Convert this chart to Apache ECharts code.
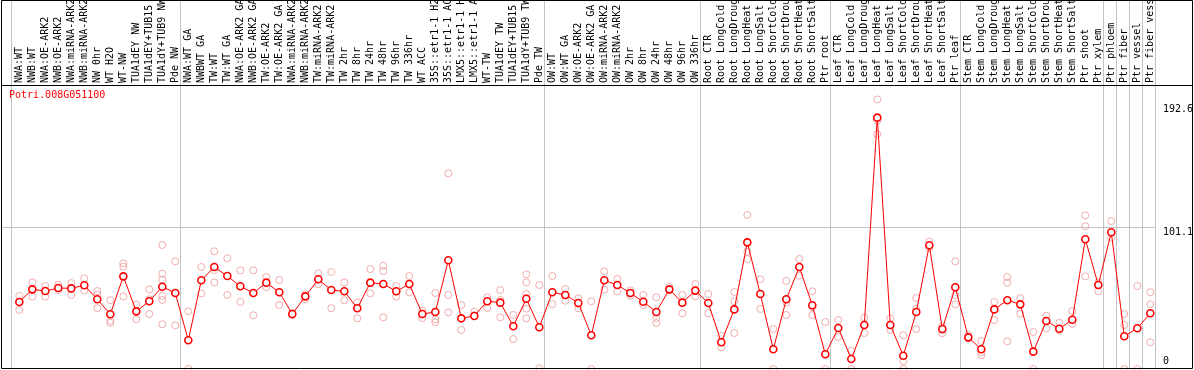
<!DOCTYPE html>
<html>
<head>
<meta charset="utf-8">
<title>Potri.008G051100</title>
<script src="https://cdn.jsdelivr.net/npm/echarts@6.0.0/dist/echarts.min.js"></script>
<style>
	html, body { margin: 0; padding: 0; background: #fff; }
	#chart { width: 1194px; height: 370px; }
</style>
</head>
<body>
<div id="chart"></div>
<script>
	// 样本名称
	const categories = [
		"NWA:WT", "NWB:WT", "NWA:OE-ARK2", "NWB:OE-ARK2", "NWA:miRNA-ARK2", "NWB:miRNA-ARK2",
		"NW 0hr", "WT H2O", "WT-NW", "TUA1dEY NW", "TUA1dEY+TUB15 NW", "TUA1dY+TUB9 NW", "Pde NW",
		"NWA:WT GA", "NWBWT GA", "TW:WT", "TW:WT GA", "NWA:OE-ARK2 GA", "NWB:OE-ARK2 GA",
		"TW:OE-ARK2", "TW:OE-ARK2 GA", "NWA:miRNA-ARK2 GA", "NWB:miRNA-ARK2 GA", "TW:miRNA-ARK2",
		"TW:miRNA-ARK2 GA", "TW 2hr", "TW 8hr", "TW 24hr", "TW 48hr", "TW 96hr", "TW 336hr",
		"WT ACC", "35S::etr1-1 H2O", "35S::etr1-1 ACC", "LMX5::etr1-1 H2O", "LMX5::etr1-1 ACC",
		"WT-TW", "TUA1dEY TW", "TUA1dEY+TUB15 TW", "TUA1dY+TUB9 TW", "Pde TW",
		"OW:WT", "OW:WT GA", "OW:OE-ARK2", "OW:OE-ARK2 GA", "OW:miRNA-ARK2", "OW:miRNA-ARK2 GA",
		"OW 2hr", "OW 8hr", "OW 24hr", "OW 48hr", "OW 96hr", "OW 336hr",
		"Root CTR", "Root LongCold", "Root LongDrought", "Root LongHeat", "Root LongSalt",
		"Root ShortCold", "Root ShortDrought", "Root ShortHeat", "Root ShortSalt", "Ptr root",
		"Leaf CTR", "Leaf LongCold", "Leaf LongDrought", "Leaf LongHeat", "Leaf LongSalt",
		"Leaf ShortCold", "Leaf ShortDrought", "Leaf ShortHeat", "Leaf ShortSalt", "Ptr leaf",
		"Stem CTR", "Stem LongCold", "Stem LongDrought", "Stem LongHeat", "Stem LongSalt",
		"Stem ShortCold", "Stem ShortDrought", "Stem ShortHeat", "Stem ShortSalt", "Ptr shoot",
		"Ptr xylem", "Ptr phloem", "Ptr fiber", "Ptr vessel", "Ptr fiber vessel"
	];

	// 每组样本数（灰色分隔线）
	const groupSizes = [13, 28, 12, 10, 10, 11, 1, 1, 1, 1];

	// 平均值
	const means = [
		47.9, 56.9, 55.7, 57.9, 57.6, 59.8, 49.8, 39.1, 66.2, 41.2, 48.4, 58.8, 54.3,
		20.5, 63.4, 72.9, 66.4, 59.1, 54.3, 61.7, 54.8, 39.3, 51.9, 64.1, 56.4, 55.5, 43.4,
		61.7, 60.7, 55.5, 60.7, 39.3, 40.7, 77.7, 36.2, 37.9, 48.4, 47.4, 30.5, 50.2, 29.8,
		54.8, 52.9, 47.2, 24.1, 63.4, 60.0, 54.3, 48.1, 40.7, 56.9, 47.4, 56.0,
		47.2, 19.1, 42.6, 90.5, 53.6, 14.1, 49.8, 72.9, 45.5, 10.5,
		29.3, 7.1, 31.4, 179.6, 31.4, 9.5, 40.7, 88.4, 28.6, 58.4,
		22.6, 14.1, 42.6, 49.1, 46.2, 12.4, 34.3, 28.8, 35.2, 92.7, 60.0,
		97.7, 23.4, 29.1, 39.8
	];

	// 重复样本
	const replicates = [
		[52.2, 42.2], [61.9, 51.7], [59.3, 51.7], [60.2, 56.4], [61.4, 52.9], [64.8, 56.0],
		[55.7, 53.1, 43.4], [49.1, 34.5, 33.1], [75.5, 73.1, 51.9], [46.2, 35.5],
		[56.9, 49.8, 39.3], [88.6, 68.1, 63.8, 52.2, 49.3, 31.9], [76.9, 31.2],
		[41.2, 0.2], [72.9, 54.1], [84.1, 70.7, 61.9], [79.1, 52.9], [70.5, 47.9], [70.5, 38.4],
		[65.7, 58.4], [63.6, 45.7], [40.0, 38.6], [53.6, 49.8], [68.4, 60.5], [69.3, 43.4],
		[61.9, 49.1], [47.6, 36.2], [71.4, 54.1], [73.8, 70.0, 36.9], [59.3, 51.7], [66.4, 54.8],
		[41.7, 36.4], [54.3, 35.5, 33.4], [139.8, 52.9, 40.5], [45.7, 27.9], [40.9, 38.4],
		[51.2, 43.6], [56.4, 49.3, 36.9], [38.6, 21.4], [67.6, 61.9, 53.6, 50.5, 43.1, 36.2],
		[60.0, 0.5],
		[66.4, 46.4], [57.2, 48.8], [50.5, 43.4], [48.4, 0], [69.8, 56.7], [64.3, 55.5],
		[56.2, 52.4], [52.9, 45.7], [51.2, 36.4, 32.9], [58.8, 56.2], [52.9, 39.8], [60.7, 51.9],
		[53.6, 39.8], [23.6, 15.5], [55.0, 48.4, 25.7], [110.0, 83.8, 78.6], [64.1, 42.9],
		[28.6, 0], [62.9, 47.4, 38.6], [78.6, 66.7], [55.5, 44.1, 38.6], [33.6, 0],
		[35.0, 22.9], [12.9, 0], [36.7, 25.7], [192.6, 177.4, 167.7], [36.2, 27.9],
		[24.1, 5.7, 0], [50.7, 42.9, 28.6], [91.0, 86.5], [30.5, 27.9, 25.5], [76.9, 52.9, 46.2],
		[24.3, 21.9], [20.0, 11.9, 9.8], [47.9, 35.0], [65.7, 61.7, 19.8], [50.7, 39.5],
		[26.4, 0], [38.1, 29.1], [33.1, 27.4], [41.4, 32.2], [109.8, 102.0, 66.2], [61.9, 55.5],
		[105.7, 93.8], [39.3, 31.4, 0], [59.3, 0], [54.8, 46.2, 19.1]
	];

	// 右侧刻度
	const yTicks = [0, 101.1, 192.6];
	const yMax = 202.2;

	const FONT = "DejaVu Sans Mono";

	const repPoints = [];
	replicates.forEach((reps, i) => {
		reps.forEach((v) => repPoints.push([i, v]));
	});

	const bounds = [0];
	groupSizes.forEach((n) => bounds.push(bounds[bounds.length - 1] + n));

	const myChart = echarts.init(document.getElementById("chart"));

	const option = {
		animation: false,
		backgroundColor: "#fff",
		title: {
			text: "Potri.008G051100",
			left: 9,
			top: 90,
			padding: 0,
			textStyle: { color: "#ff0000", fontFamily: FONT, fontSize: 10, fontWeight: "normal" }
		},
		grid: [
			{ left: 12.8, right: 37.2, top: 86, bottom: 1, outerBoundsMode: "none", containLabel: false }, // 数据区
			{ left: 1.5, right: 38, top: 86, bottom: 1, outerBoundsMode: "none", containLabel: false }, // 右侧刻度 + 横线
			{ left: 11.5, right: 38.5, top: 0, bottom: 1, outerBoundsMode: "none", containLabel: false } // 分组竖线
		],
		xAxis: [
			{
				gridIndex: 0,
				type: "category",
				data: categories,
				position: "top",
				boundaryGap: true,
				axisLine: { show: false },
				axisTick: { show: false },
				splitLine: { show: false },
				axisLabel: {
					rotate: 90,
					interval: 0,
					margin: 3,
					color: "#000",
					fontFamily: FONT,
					fontSize: 10
				}
			},
			{ gridIndex: 1, type: "value", min: 0, max: 1, show: false },
			{ gridIndex: 2, type: "value", min: 0, max: categories.length, show: false }
		],
		yAxis: [
			{ gridIndex: 0, type: "value", min: 0, max: yMax, show: false },
			{
				gridIndex: 1,
				type: "value",
				position: "right",
				min: 0,
				max: yMax,
				interval: 101.1,
				axisLine: { show: false },
				axisTick: { show: false },
				splitLine: {
					show: true,
					showMinLine: false,
					showMaxLine: false,
					lineStyle: { color: "#c3c3c3", width: 1 }
				},
				axisLabel: {
					customValues: yTicks,
					margin: 7,
					color: "#000",
					fontFamily: FONT,
					fontSize: 10,
					formatter: (v) => {
						if (v === 0) return "{b|0}";
						if (v === yTicks[yTicks.length - 1]) return "{m|" + v + "}";
						return "{t|" + v + "}";
					},
					rich: {
						b: { fontFamily: FONT, fontSize: 10, color: "#000", padding: [0, 0, 15, 0] },
						t: { fontFamily: FONT, fontSize: 10, color: "#000", padding: [9, 0, 0, 0] },
						m: { fontFamily: FONT, fontSize: 10, color: "#000", padding: [20, 0, 0, 0] }
					}
				}
			},
			{ gridIndex: 2, type: "value", min: 0, max: 1, show: false }
		],
		series: [
			{
				name: "groups",
				type: "custom",
				xAxisIndex: 2,
				yAxisIndex: 2,
				silent: true,
				z: 0,
				data: bounds.map((b) => [b, 0]),
				renderItem: (params, api) => {
					const p0 = api.coord([api.value(0), 0]);
					const p1 = api.coord([api.value(0), 1]);
					return {
						type: "line",
						shape: { x1: p0[0], y1: p1[1], x2: p0[0], y2: p0[1] },
						style: { stroke: "#c3c3c3", lineWidth: 1 }
					};
				}
			},
			{
				name: "replicates",
				type: "scatter",
				xAxisIndex: 0,
				yAxisIndex: 0,
				z: 2,
				symbol: "circle",
				symbolSize: 7,
				itemStyle: { color: "rgba(0,0,0,0)", borderColor: "#ee9999", borderWidth: 1 },
				data: repPoints
			},
			{
				name: "mean",
				type: "line",
				xAxisIndex: 0,
				yAxisIndex: 0,
				z: 3,
				symbol: "circle",
				symbolSize: 7,
				lineStyle: { color: "#ff0000", width: 1 },
				itemStyle: { color: "#fff", borderColor: "#ff0000", borderWidth: 1.6 },
				data: means
			}
		],
		graphic: [
			{
				type: "rect",
				z: 100,
				shape: { x: 1.5, y: 0.5, width: 1191, height: 368 },
				style: { fill: "none", stroke: "#000", lineWidth: 1 }
			},
			{
				type: "line",
				z: 100,
				shape: { x1: 1.5, y1: 85.5, x2: 1192.5, y2: 85.5 },
				style: { stroke: "#000", lineWidth: 1 }
			}
		]
	};

	myChart.setOption(option);

	window.addEventListener("resize", () => {
		myChart.resize();
	});
</script>
</body>
</html>
